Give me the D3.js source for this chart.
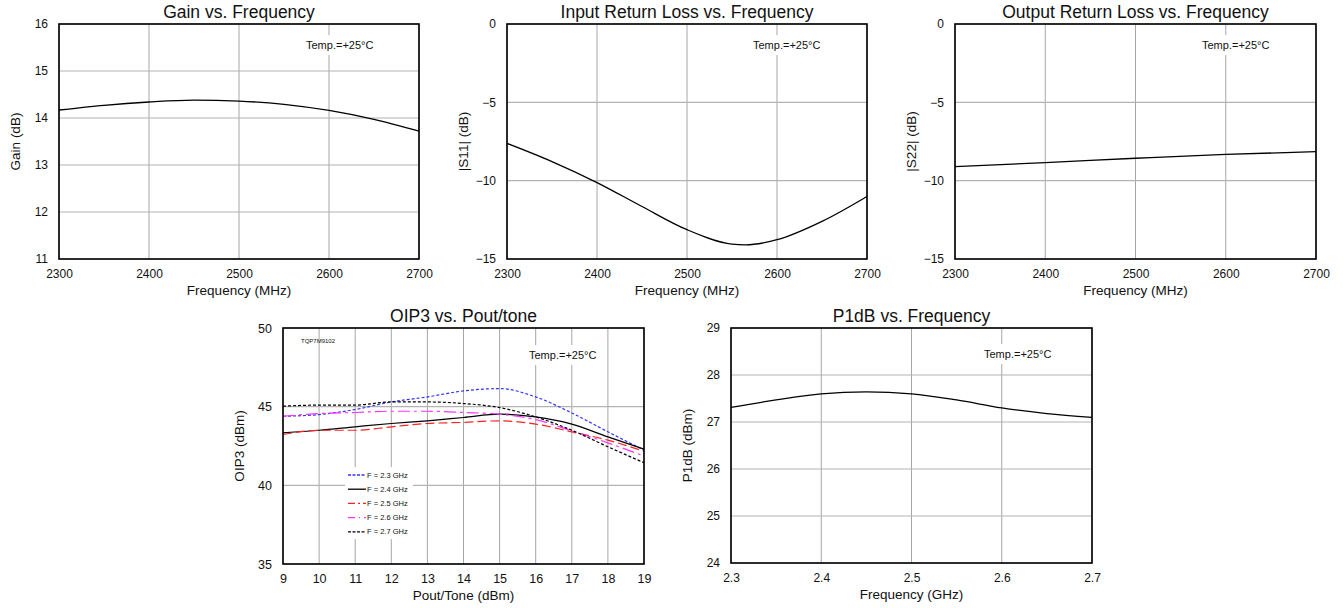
<!DOCTYPE html>
<html>
<head>
<meta charset="utf-8">
<script src="https://cdn.jsdelivr.net/npm/d3@7"></script>
<style>
body{margin:0;background:#fff;}
text{font-family:"Liberation Sans",Arial,sans-serif;fill:#111;}
</style>
</head>
<body>
<script>
var w = 1343;
var h = 608;

// data
var freqMHz = [2300,2350,2400,2450,2500,2550,2600,2650,2700];
var gain = [14.17,14.27,14.34,14.38,14.36,14.29,14.16,13.97,13.72];

var s11Freq = [2300,2350,2400,2450,2500,2550,2565,2600,2650,2700];
var s11 = [-7.62,-8.78,-10.12,-11.65,-13.13,-14.05,-14.1,-13.77,-12.6,-11.01];

var s22Freq = [2300,2400,2500,2600,2700];
var s22 = [-9.1,-8.85,-8.57,-8.32,-8.15];

var pout = [9,10,11,12,13,14,15,16,17,18,19];
var oip3_23 = [44.39,44.5,44.82,45.3,45.62,46.0,46.15,45.62,44.6,43.4,42.24];
var oip3_24 = [43.34,43.5,43.72,43.93,44.1,44.31,44.52,44.35,43.89,43.08,42.3];
var oip3_25 = [43.23,43.5,43.5,43.72,43.93,44.0,44.1,43.89,43.4,42.87,42.17];
var oip3_26 = [44.39,44.56,44.63,44.71,44.71,44.63,44.52,44.18,43.46,42.7,41.86];
var oip3_27 = [45.03,45.1,45.1,45.3,45.3,45.2,44.94,44.35,43.5,42.45,41.44];
var oip3Names = ["F = 2.3 GHz","F = 2.4 GHz","F = 2.5 GHz","F = 2.6 GHz","F = 2.7 GHz"];

var freqGHz = [2.3,2.35,2.4,2.45,2.5,2.55,2.6,2.65,2.7];
var p1db = [27.31,27.47,27.6,27.64,27.6,27.47,27.3,27.18,27.1];

var freqTicks = [2300,2400,2500,2600,2700];
var ghzTicks = [2.3,2.4,2.5,2.6,2.7];
var poutTicks = [9,10,11,12,13,14,15,16,17,18,19];

var svg = d3.select("body").append("svg")
  .attr("width", w)
  .attr("height", h);

// one panel = grid + frame + curves + labels
function panel(o) {
  var x = d3.scaleLinear().domain(o.xd).range([o.l, o.r]);
  var y = d3.scaleLinear().domain(o.yd).range([o.b, o.t]);
  var g = svg.append("g");

  // grid
  g.selectAll(".vg").data(o.xgrid).enter().append("line")
    .attr("x1", function(d){return x(d);}).attr("x2", function(d){return x(d);})
    .attr("y1", o.t).attr("y2", o.b)
    .attr("stroke", "#a6a6a6").attr("stroke-width", 1);
  g.selectAll(".hg").data(o.ygrid).enter().append("line")
    .attr("y1", function(d){return y(d);}).attr("y2", function(d){return y(d);})
    .attr("x1", o.l).attr("x2", o.r)
    .attr("stroke", "#b3b3b3").attr("stroke-width", 1.2);

  // temp label with white box
  var tx = g.append("text").text("Temp.=+25°C")
    .attr("x", o.tempX).attr("y", o.tempY)
    .attr("font-size", 11);
  var bb = tx.node().getBBox();
  g.insert("rect", "text")
    .attr("x", bb.x - 5).attr("y", bb.y - 4)
    .attr("width", bb.width + 10).attr("height", bb.height + 8)
    .attr("fill", "#fff");

  // curves
  o.series.forEach(function(s){
    var line = d3.line()
      .x(function(d,i){return x(s.x[i]);})
      .y(function(d){return y(d);})
      .curve(d3.curveMonotoneX);
    g.append("path").attr("d", line(s.y))
      .attr("fill", "none")
      .attr("stroke", s.color || "#000")
      .attr("stroke-width", s.width || 1.3)
      .attr("stroke-dasharray", s.dash || null);
  });

  // frame
  g.append("rect").attr("x", o.l).attr("y", o.t)
    .attr("width", o.r - o.l).attr("height", o.b - o.t)
    .attr("fill", "none").attr("stroke", "#000").attr("stroke-width", 1.6);

  // axes (no tick marks, just labels)
  var xa = g.append("g").attr("transform", "translate(0," + o.b + ")")
    .call(d3.axisBottom(x).tickValues(o.xticks).tickSize(0).tickPadding(10).tickFormat(o.xfmt || d3.format("d")));
  var ya = g.append("g").attr("transform", "translate(" + o.l + ",0)")
    .call(d3.axisLeft(y).tickValues(o.yticks).tickSize(0).tickPadding(11).tickFormat(d3.format("d")));
  [xa, ya].forEach(function(a){
    a.select(".domain").remove();
    a.selectAll("text").attr("font-size", o.tickSize || 12)
      .attr("font-family", "Liberation Sans, Arial, sans-serif").attr("fill", "#111");
  });

  // titles
  g.append("text").text(o.title)
    .attr("x", (o.l + o.r) / 2).attr("y", o.t - 6)
    .attr("text-anchor", "middle").attr("font-size", 17.5);
  g.append("text").text(o.xlabel)
    .attr("x", (o.l + o.r) / 2).attr("y", o.b + 36)
    .attr("text-anchor", "middle").attr("font-size", 13.5);
  g.append("text").text(o.ylabel)
    .attr("transform", "translate(" + (o.l - 44) + "," + ((o.t + o.b) / 2) + ") rotate(-90)")
    .attr("text-anchor", "middle").attr("dominant-baseline", "central")
    .attr("font-size", 13.5);

  return {g: g, x: x, y: y};
}

panel({l:59, r:419, t:24, b:259, xd:[2300,2700], yd:[11,16],
  xgrid:freqTicks, ygrid:[11,12,13,14,15,16], xticks:freqTicks, yticks:[11,12,13,14,15,16],
  tempX:306, tempY:49,
  title:"Gain vs. Frequency", xlabel:"Frequency (MHz)", ylabel:"Gain (dB)",
  series:[{x:freqMHz, y:gain}]});

panel({l:507, r:867, t:24, b:259, xd:[2300,2700], yd:[-15,0],
  xgrid:freqTicks, ygrid:[-15,-10,-5,0], xticks:freqTicks, yticks:[-15,-10,-5,0],
  tempX:753, tempY:49,
  title:"Input Return Loss vs. Frequency", xlabel:"Frequency (MHz)", ylabel:"|S11| (dB)",
  series:[{x:s11Freq, y:s11}]});

panel({l:955, r:1316, t:24, b:259, xd:[2300,2700], yd:[-15,0],
  xgrid:freqTicks, ygrid:[-15,-10,-5,0], xticks:freqTicks, yticks:[-15,-10,-5,0],
  tempX:1202, tempY:49,
  title:"Output Return Loss vs. Frequency", xlabel:"Frequency (MHz)", ylabel:"|S22| (dB)",
  series:[{x:s22Freq, y:s22}]});

var oipColors = ["#3333ff","#000000","#ff2020","#ff33ff","#000000"];
var oipDash = ["3,2", null, "9,4", "12,4,3,4", "3,2"];
var oipData = [oip3_23, oip3_24, oip3_25, oip3_26, oip3_27];

var p4 = panel({l:283, r:644, t:328, b:564, xd:[9,19], yd:[35,50],
  xgrid:poutTicks, ygrid:[35,40,45,50], xticks:poutTicks, yticks:[35,40,45,50],
  tempX:529, tempY:359, tickSize:12.5,
  title:"OIP3 vs. Pout/tone", xlabel:"Pout/Tone (dBm)", ylabel:"OIP3 (dBm)",
  series:oipData.map(function(d,i){
    return {x:pout, y:d, color:oipColors[i], dash:oipDash[i], width:1.2};
  })});

// small part number label
p4.g.append("text").text("TQP7M9102")
  .attr("x", 301).attr("y", 343).attr("font-size", 6).attr("fill", "#333");

// legend
var lg = p4.g.append("g");
lg.append("rect").attr("x", 345).attr("y", 467).attr("width", 68).attr("height", 72).attr("fill", "#fff");
oip3Names.forEach(function(n,i){
  var yy = 475 + i * 14.2;
  lg.append("line").attr("x1", 348).attr("x2", 366).attr("y1", yy).attr("y2", yy)
    .attr("stroke", oipColors[i]).attr("stroke-width", 1.3)
    .attr("stroke-dasharray", oipDash[i] ? (i == 2 ? "7,3,2,3" : (i == 3 ? "7,4,1,4" : "3,1.5")) : null);
  lg.append("text").text(n).attr("x", 367).attr("y", yy + 2.6)
    .attr("font-size", 7.5).attr("fill", "#333");
});

panel({l:731, r:1092, t:328, b:563, xd:[2.3,2.7], yd:[24,29],
  xgrid:ghzTicks, ygrid:[24,25,26,27,28,29], xticks:ghzTicks, yticks:[24,25,26,27,28,29],
  xfmt:d3.format(".1f"), tempX:984, tempY:358,
  title:"P1dB vs. Frequency", xlabel:"Frequency (GHz)", ylabel:"P1dB (dBm)",
  series:[{x:freqGHz, y:p1db}]});
</script>
</body>
</html>
